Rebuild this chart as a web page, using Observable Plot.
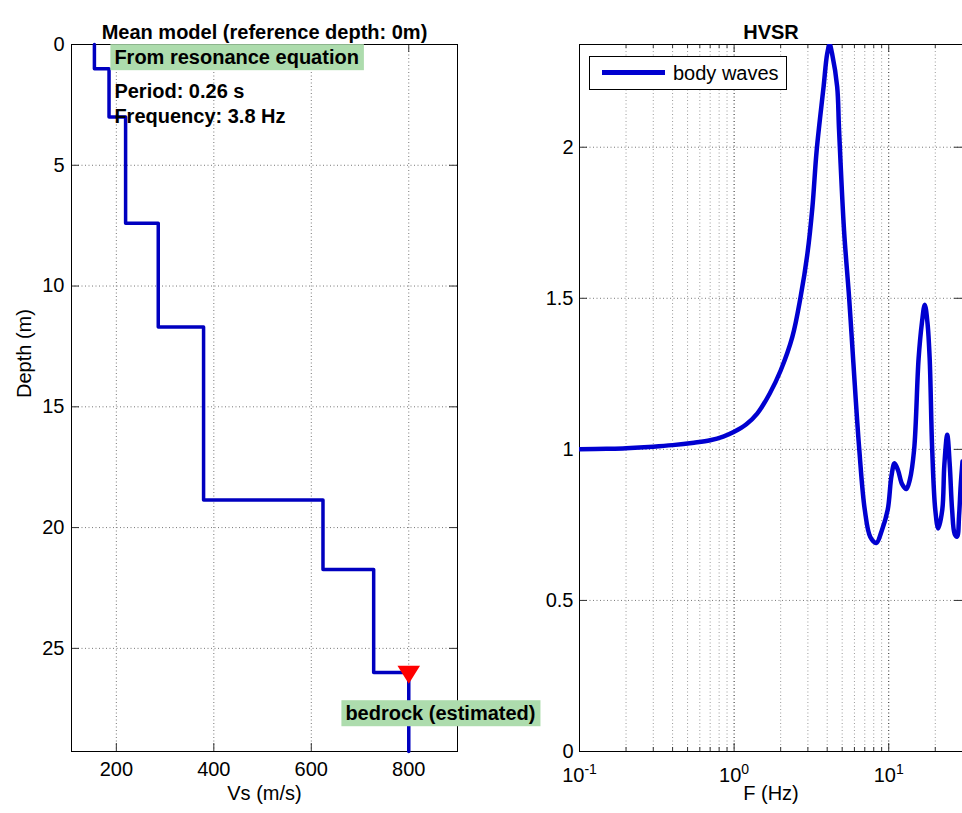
<!DOCTYPE html>
<html>
<head>
<meta charset="utf-8">
<script src="https://cdn.jsdelivr.net/npm/d3@7"></script>
<script src="https://cdn.jsdelivr.net/npm/@observablehq/plot@0.6"></script>
<style>
  html, body { margin: 0; padding: 0; background: #fff; overflow: hidden; }
  #wrap { position: relative; width: 962px; height: 813px; font-family: "Liberation Sans", Arial, sans-serif; background: #fff; }
  #left { position: absolute; left: 0; top: 0; }
  #right { position: absolute; left: 480px; top: 0; }
  .legend { position: absolute; left: 589px; top: 56px; width: 198px; height: 34px; box-sizing: border-box;
            border: 1px solid #000; background: #fff; }
  .legend .swatch { position: absolute; left: 12px; top: 13px; width: 63px; height: 5px; background: #0000d0; }
  .legend .lab { position: absolute; left: 83px; top: 4px; font-size: 20px; line-height: 24px; color: #000; }
</style>
</head>
<body>
<div id="wrap">
  <div id="left"></div>
  <div id="right"></div>
  <div class="legend"><div class="swatch"></div><div class="lab">body waves</div></div>
</div>
<script>
// ---------- data: left panel (mean Vs model) ----------
const vsLayers   = [155, 185, 219, 286, 379, 624, 728, 800];      // m/s
const layerTops  = [0, 1.0, 3.0, 7.4, 11.7, 18.86, 21.73, 26.0];  // m
const profileEnd = 29.27;                                          // m
const vsTicks    = [200, 400, 600, 800];
const depthTicks = [0, 5, 10, 15, 20, 25];
const boxedNotes = [
  {vs: 196, depth: 0.55, text: "From resonance equation"},
  {vs: 670, depth: 27.71, text: "bedrock (estimated)"}
];
const plainNotes = [
  {vs: 196, depth: 1.94, text: "Period: 0.26 s"},
  {vs: 196, depth: 3.0, text: "Frequency: 3.8 Hz"}
];

// ---------- data: right panel (HVSR) ----------
const freq = [0.1, 0.15, 0.2, 0.3, 0.4, 0.55, 0.7, 0.85, 1.0, 1.2, 1.41, 1.7, 2.0, 2.38, 2.69, 2.98, 3.21, 3.42, 3.79, 4.0, 4.15,
              4.3, 4.64, 4.77, 5.14, 5.54, 5.9, 6.43, 7.0, 7.6, 8.3, 9.0, 9.85, 10.4, 10.9, 11.5, 12.2, 13.0, 13.7, 14.6,
              15.6, 16.4, 17.1, 17.8, 18.4, 19.1, 20.0, 20.9, 22.2, 22.9, 23.9, 24.8, 25.7, 26.7, 27.7, 28.5, 29.2, 30.0];
const hvsr = [1.000, 1.002, 1.004, 1.009, 1.014, 1.022, 1.030, 1.042, 1.058, 1.083, 1.118, 1.185, 1.261, 1.372, 1.504, 1.648, 1.802, 1.99, 2.20, 2.31, 2.34,
              2.31, 2.20, 2.06, 1.725, 1.504, 1.29, 1.008, 0.80, 0.71, 0.69, 0.73, 0.80, 0.91, 0.954, 0.93, 0.885, 0.869, 0.90, 1.00,
              1.30, 1.42, 1.479, 1.42, 1.30, 1.00, 0.80, 0.738, 0.80, 0.95, 1.048, 0.95, 0.80, 0.72, 0.711, 0.78, 0.88, 0.96];
const fMajor = [0.1, 1, 10];
const fMinor = [0.2, 0.3, 0.4, 0.5, 0.6, 0.7, 0.8, 0.9, 2, 3, 4, 5, 6, 7, 8, 9, 20];
const hvsrTicks = [0, 0.5, 1, 1.5, 2];

// ---------- derived tables ----------
const profile = [];
vsLayers.forEach((v, i) => {
  const top = layerTops[i];
  const bot = i + 1 < layerTops.length ? layerTops[i + 1] : profileEnd;
  profile.push({vs: v, depth: top}, {vs: v, depth: bot});
});
const bedrock = [{vs: vsLayers[vsLayers.length - 1], depth: layerTops[layerTops.length - 1]}];
const hvsrData = freq.map((f, i) => ({f, a: hvsr[i]}));

const FONT = "Liberation Sans, Arial, sans-serif";
const triangleDown = {
  draw(ctx, size) {
    const r = Math.sqrt(size / Math.PI);
    ctx.moveTo(-r, -0.6 * r);
    ctx.lineTo(r, -0.6 * r);
    ctx.lineTo(0, r);
    ctx.closePath();
  }
};

// ---------- left plot ----------
const LW = 480, LH = 813, LM = {l: 71, r: 23, t: 44, b: 62};
const lpw = LW - LM.l - LM.r, lph = LH - LM.t - LM.b;
const grid = {stroke: "#777", strokeDasharray: "1,2.5", strokeWidth: 1};
const tick = {stroke: "#333", strokeWidth: 1};

const leftPlot = Plot.plot({
  width: LW, height: LH,
  marginLeft: LM.l, marginRight: LM.r, marginTop: LM.t, marginBottom: LM.b,
  style: {fontFamily: FONT, fontSize: "20px", color: "#000", background: "transparent", overflow: "visible"},
  x: {domain: [108, 900]},
  y: {domain: [0, profileEnd], reverse: true},
  marks: [
    Plot.ruleX(vsTicks, grid),
    Plot.ruleY(depthTicks, grid),
    Plot.ruleX(vsTicks, {...tick, insetTop: lph - 8}),
    Plot.ruleX(vsTicks, {...tick, insetBottom: lph - 8}),
    Plot.ruleY(depthTicks, {...tick, insetRight: lpw - 8}),
    Plot.ruleY(depthTicks, {...tick, insetLeft: lpw - 8}),
    Plot.frame({stroke: "#000"}),
    Plot.axisX({ticks: vsTicks, tickSize: 0, tickPadding: 10, label: null, fontSize: 20}),
    Plot.axisY({ticks: depthTicks, tickSize: 0, tickPadding: 7, label: null, fontSize: 20}),
    Plot.line(profile, {x: "vs", y: "depth", stroke: "#0000c0", strokeWidth: 3.5}),
    Plot.text(plainNotes, {x: "vs", y: "depth", text: "text", textAnchor: "start", fontWeight: "bold", fontSize: 20, fill: "#000"}),
    Plot.text(boxedNotes, {x: "vs", y: "depth", text: "text", textAnchor: "start", fontWeight: "bold", fontSize: 20, fill: "#000"}),
    Plot.dot(bedrock, {x: "vs", y: "depth", symbol: triangleDown, r: 11.3, fill: "#ff0000", stroke: "none"}),
    Plot.text(["Mean model (reference depth: 0m)"], {frameAnchor: "top", dy: -20, fontWeight: "bold", fontSize: 20}),
    Plot.text(["Vs (m/s)"], {frameAnchor: "bottom", dy: 48, fontSize: 20}),
    Plot.text(["Depth (m)"], {frameAnchor: "left", dx: -47, rotate: -90, fontSize: 20})
  ]
});
document.getElementById("left").appendChild(leftPlot);

// green backgrounds behind boxed notes (found by their text)
const boxedTexts = new Set(boxedNotes.map(d => d.text));
let boxGroup = null;
leftPlot.querySelectorAll("text").forEach(t => {
  if (!boxedTexts.has(t.textContent)) return;
  const bb = t.getBBox();
  const rect = document.createElementNS("http://www.w3.org/2000/svg", "rect");
  rect.setAttribute("x", bb.x - 4);
  rect.setAttribute("y", bb.y - 2);
  rect.setAttribute("width", bb.width + 9);
  rect.setAttribute("height", bb.height + 4);
  rect.setAttribute("fill", "#addcad");
  if (t.getAttribute("transform")) rect.setAttribute("transform", t.getAttribute("transform"));
  t.parentNode.insertBefore(rect, t);
  boxGroup = t.parentNode;
});
// keep the red triangle above the bedrock box
if (boxGroup) {
  const dotG = Array.from(leftPlot.children).find(g => g.querySelector && g.querySelector('[fill="#ff0000"]') && g !== boxGroup);
  if (dotG) leftPlot.appendChild(dotG);
}

// ---------- right plot ----------
const RW = 482, RH = 813, RM = {l: 99, r: 0, t: 44, b: 62};
const rpw = RW - RM.l - RM.r, rph = RH - RM.t - RM.b;
const rightPlot = Plot.plot({
  width: RW, height: RH,
  marginLeft: RM.l, marginRight: RM.r, marginTop: RM.t, marginBottom: RM.b,
  style: {fontFamily: FONT, fontSize: "20px", color: "#000", background: "transparent", overflow: "visible"},
  x: {type: "log", domain: [0.1, 30]},
  y: {domain: [0, 2.34]},
  marks: [
    Plot.ruleX(fMinor, {stroke: "#9a9a9a", strokeDasharray: "1,2.5"}),
    Plot.ruleX(fMajor, {stroke: "#222", strokeDasharray: "1,2.5"}),
    Plot.ruleY(hvsrTicks, grid),
    Plot.ruleX(fMajor, {...tick, insetTop: rph - 8}),
    Plot.ruleX(fMajor, {...tick, insetBottom: rph - 8}),
    Plot.ruleX(fMinor, {...tick, insetTop: rph - 4}),
    Plot.ruleX(fMinor, {...tick, insetBottom: rph - 4}),
    Plot.ruleY(hvsrTicks, {...tick, insetRight: rpw - 8}),
    Plot.ruleY(hvsrTicks, {...tick, insetLeft: rpw - 8}),
    Plot.frame({stroke: "#000"}),
    Plot.axisX({ticks: fMajor, tickFormat: d => `10^${Math.round(Math.log10(d))}`, tickSize: 0, tickPadding: 16, label: null, fontSize: 20}),
    Plot.axisY({ticks: hvsrTicks, tickFormat: d => String(d), tickSize: 0, tickPadding: 6, label: null, fontSize: 20}),
    Plot.line(hvsrData, {x: "f", y: "a", stroke: "#0000d0", strokeWidth: 4.5, curve: "catmull-rom", clip: true}),
    Plot.text(["HVSR"], {frameAnchor: "top", dy: -20, fontWeight: "bold", fontSize: 20}),
    Plot.text(["F (Hz)"], {frameAnchor: "bottom", dy: 48, fontSize: 20})
  ]
});
document.getElementById("right").appendChild(rightPlot);

// superscript exponents on log tick labels
rightPlot.querySelectorAll("text").forEach(t => {
  const m = t.textContent.match(/^10\^(-?\d+)$/);
  if (!m) return;
  t.textContent = "";
  const base = document.createElementNS("http://www.w3.org/2000/svg", "tspan");
  base.textContent = "10";
  const sup = document.createElementNS("http://www.w3.org/2000/svg", "tspan");
  sup.textContent = m[1];
  sup.setAttribute("dy", "-0.55em");
  sup.setAttribute("font-size", "14px");
  t.appendChild(base);
  t.appendChild(sup);
});
</script>
</body>
</html>
